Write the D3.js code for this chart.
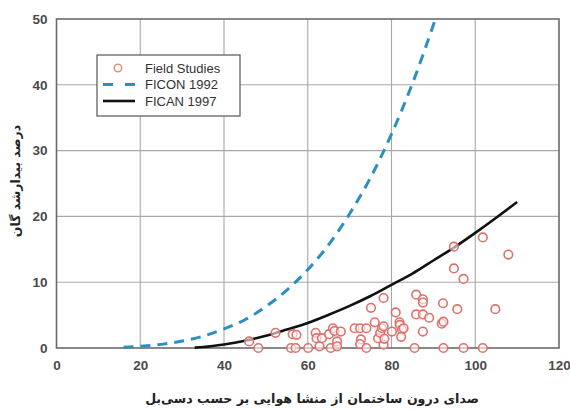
<!DOCTYPE html>
<html>
<head>
<meta charset="utf-8">
<script src="https://cdn.jsdelivr.net/npm/d3@7"></script>
<style>
  body { margin: 0; background: #fff; }
  svg { display: block; }
</style>
</head>
<body>
<svg id="chart" width="570" height="411"></svg>
<script>
// field study points: [indoor SEL dB, % awakened]
const fieldX = [46.0, 48.2, 52.3, 56.0, 57.1, 56.4, 57.3, 60.1, 61.9, 62.1, 62.8, 63.4, 65.1, 65.5, 66.0, 66.4,
  67.0, 67.0, 67.9, 71.2, 72.5, 72.7, 72.5, 74.0, 74.0, 75.1, 76.0, 76.8, 77.3, 77.7, 78.1, 78.1, 78.1, 78.3,
  80.1, 81.0, 81.9, 82.0, 82.5, 82.3, 82.9, 85.5, 85.9, 85.9, 87.5, 87.5, 87.5, 87.5, 89.0, 92.3, 92.0, 92.4,
  92.4, 94.9, 94.9, 95.7, 97.2, 97.2, 101.8, 101.8, 104.8, 107.9];
const fieldY = [1.0, 0, 2.3, 0, 0, 2.1, 2.0, 0, 2.3, 1.5, 0.25, 1.5, 2.1, 0, 3.0, 2.6,
  1.0, 0.25, 2.5, 3.0, 3.0, 1.3, 0.6, 3.0, 0, 6.1, 3.9, 1.5, 2.3, 3.0, 7.6, 3.3, 0.5, 1.4,
  2.5, 5.4, 3.9, 3.5, 2.8, 1.7, 3.0, 0, 8.1, 5.1, 7.4, 6.9, 5.1, 2.5, 4.6, 6.8, 3.7, 4.0,
  0, 15.4, 12.1, 5.9, 10.5, 0, 16.8, 0, 5.9, 14.2];

// FICON 1992 curve
const ficonX = [16, 20, 25, 30, 35, 40, 45, 50, 55, 60, 65, 70, 75, 80, 85, 90.5];
const ficonY = [0.1, 0.25, 0.55, 1.05, 1.8, 2.9, 4.3, 6.3, 8.8, 11.9, 15.7, 20.4, 25.9, 32.5, 40.2, 50];

// FICAN 1997 curve
const ficanX = [33, 35, 40, 45, 50, 55, 60, 65, 70, 75, 80, 85, 90, 95, 100, 105, 110];
const ficanY = [0.06, 0.15, 0.54, 1.1, 1.85, 2.8, 3.8, 5.05, 6.4, 7.9, 9.6, 11.3, 13.3, 15.3, 17.5, 19.8, 22.2];

const xTicks = [0, 20, 40, 60, 80, 100, 120];
const yTicks = [0, 10, 20, 30, 40, 50];
const legendLabels = ["Field Studies", "FICON 1992", "FICAN 1997"];

const xTitle = "صدای درون ساختمان از منشا هوایی بر حسب دسی‌بل";
const yTitle = "درصد بیدارشد گان";

const svg = d3.select("#chart");
const plot = { left: 56.5, right: 559, top: 19, bottom: 348 };

const x = d3.scaleLinear().domain([0, 120]).range([plot.left, plot.right]);
const y = d3.scaleLinear().domain([0, 50]).range([plot.bottom, plot.top]);

// grid
svg.append("g")
  .selectAll("line.vg")
  .data(xTicks.slice(1, -1))
  .enter().append("line")
  .attr("x1", d => x(d)).attr("x2", d => x(d))
  .attr("y1", plot.top).attr("y2", plot.bottom)
  .attr("stroke", "#a8a8a8").attr("stroke-width", 1.1);

svg.append("g")
  .selectAll("line.hg")
  .data(yTicks.slice(1, -1))
  .enter().append("line")
  .attr("x1", plot.left).attr("x2", plot.right)
  .attr("y1", d => y(d)).attr("y2", d => y(d))
  .attr("stroke", "#a8a8a8").attr("stroke-width", 1.1);

// axes (labels only, ticks hidden)
const xAxis = svg.append("g")
  .attr("transform", `translate(0,${plot.bottom})`)
  .call(d3.axisBottom(x).tickValues(xTicks).tickSize(0).tickPadding(12));
const yAxis = svg.append("g")
  .attr("transform", `translate(${plot.left},0)`)
  .call(d3.axisLeft(y).tickValues(yTicks).tickSize(0).tickPadding(9));

[xAxis, yAxis].forEach(a => {
  a.select(".domain").remove();
  a.selectAll("text")
    .attr("font-family", "Liberation Sans, Arial, sans-serif")
    .attr("font-size", 13.5)
    .attr("font-weight", "bold")
    .attr("fill", "#4a4a4a");
});

// frame
svg.append("rect")
  .attr("x", plot.left).attr("y", plot.top)
  .attr("width", plot.right - plot.left).attr("height", plot.bottom - plot.top)
  .attr("fill", "none").attr("stroke", "#6a6a6a").attr("stroke-width", 1.6);

const line = d3.line()
  .x(d => x(d[0])).y(d => y(d[1]))
  .curve(d3.curveMonotoneX);

svg.append("path")
  .datum(d3.zip(ficonX, ficonY))
  .attr("d", line)
  .attr("fill", "none")
  .attr("stroke", "#2b8fc3")
  .attr("stroke-width", 3)
  .attr("stroke-dasharray", "10,7");

svg.append("path")
  .datum(d3.zip(ficanX, ficanY))
  .attr("d", line)
  .attr("fill", "none")
  .attr("stroke", "#111")
  .attr("stroke-width", 2.6);

svg.append("g")
  .selectAll("circle")
  .data(d3.zip(fieldX, fieldY))
  .enter().append("circle")
  .attr("cx", d => x(d[0]))
  .attr("cy", d => y(d[1]))
  .attr("r", 4.3)
  .attr("fill", "#fff")
  .attr("fill-opacity", 0.6)
  .attr("stroke", "#e0706a")
  .attr("stroke-width", 1.6);

// legend
const lg = svg.append("g");
lg.append("rect")
  .attr("x", 97).attr("y", 55).attr("width", 143).attr("height", 61)
  .attr("fill", "#fff").attr("stroke", "#555").attr("stroke-width", 1.2);

const rowY = [68, 84.5, 101];
lg.append("circle")
  .attr("cx", 118).attr("cy", rowY[0]).attr("r", 3.8)
  .attr("fill", "none").attr("stroke", "#e0907a").attr("stroke-width", 1.5);
lg.append("line")
  .attr("x1", 103).attr("x2", 135).attr("y1", rowY[1]).attr("y2", rowY[1])
  .attr("stroke", "#2b8fc3").attr("stroke-width", 3).attr("stroke-dasharray", "10,12");
lg.append("line")
  .attr("x1", 103).attr("x2", 135).attr("y1", rowY[2]).attr("y2", rowY[2])
  .attr("stroke", "#111").attr("stroke-width", 2.6);

lg.selectAll("text")
  .data(legendLabels)
  .enter().append("text")
  .attr("x", 145)
  .attr("y", (d, i) => rowY[i])
  .attr("dy", "0.36em")
  .attr("font-family", "Liberation Sans, Arial, sans-serif")
  .attr("font-size", 13)
  .attr("fill", "#333")
  .text(d => d);

// titles
svg.append("text")
  .attr("x", 312).attr("y", 399)
  .attr("text-anchor", "middle")
  .attr("dominant-baseline", "middle")
  .attr("direction", "rtl")
  .attr("font-family", "DejaVu Sans, sans-serif")
  .attr("font-size", 12.6)
  .attr("font-weight", "bold")
  .attr("fill", "#222")
  .text(xTitle);

svg.append("text")
  .attr("transform", "translate(16,181) rotate(-90)")
  .attr("text-anchor", "middle")
  .attr("dominant-baseline", "middle")
  .attr("direction", "rtl")
  .attr("font-family", "DejaVu Sans, sans-serif")
  .attr("font-size", 12.5)
  .attr("font-weight", "bold")
  .attr("fill", "#222")
  .text(yTitle);
</script>
</body>
</html>
